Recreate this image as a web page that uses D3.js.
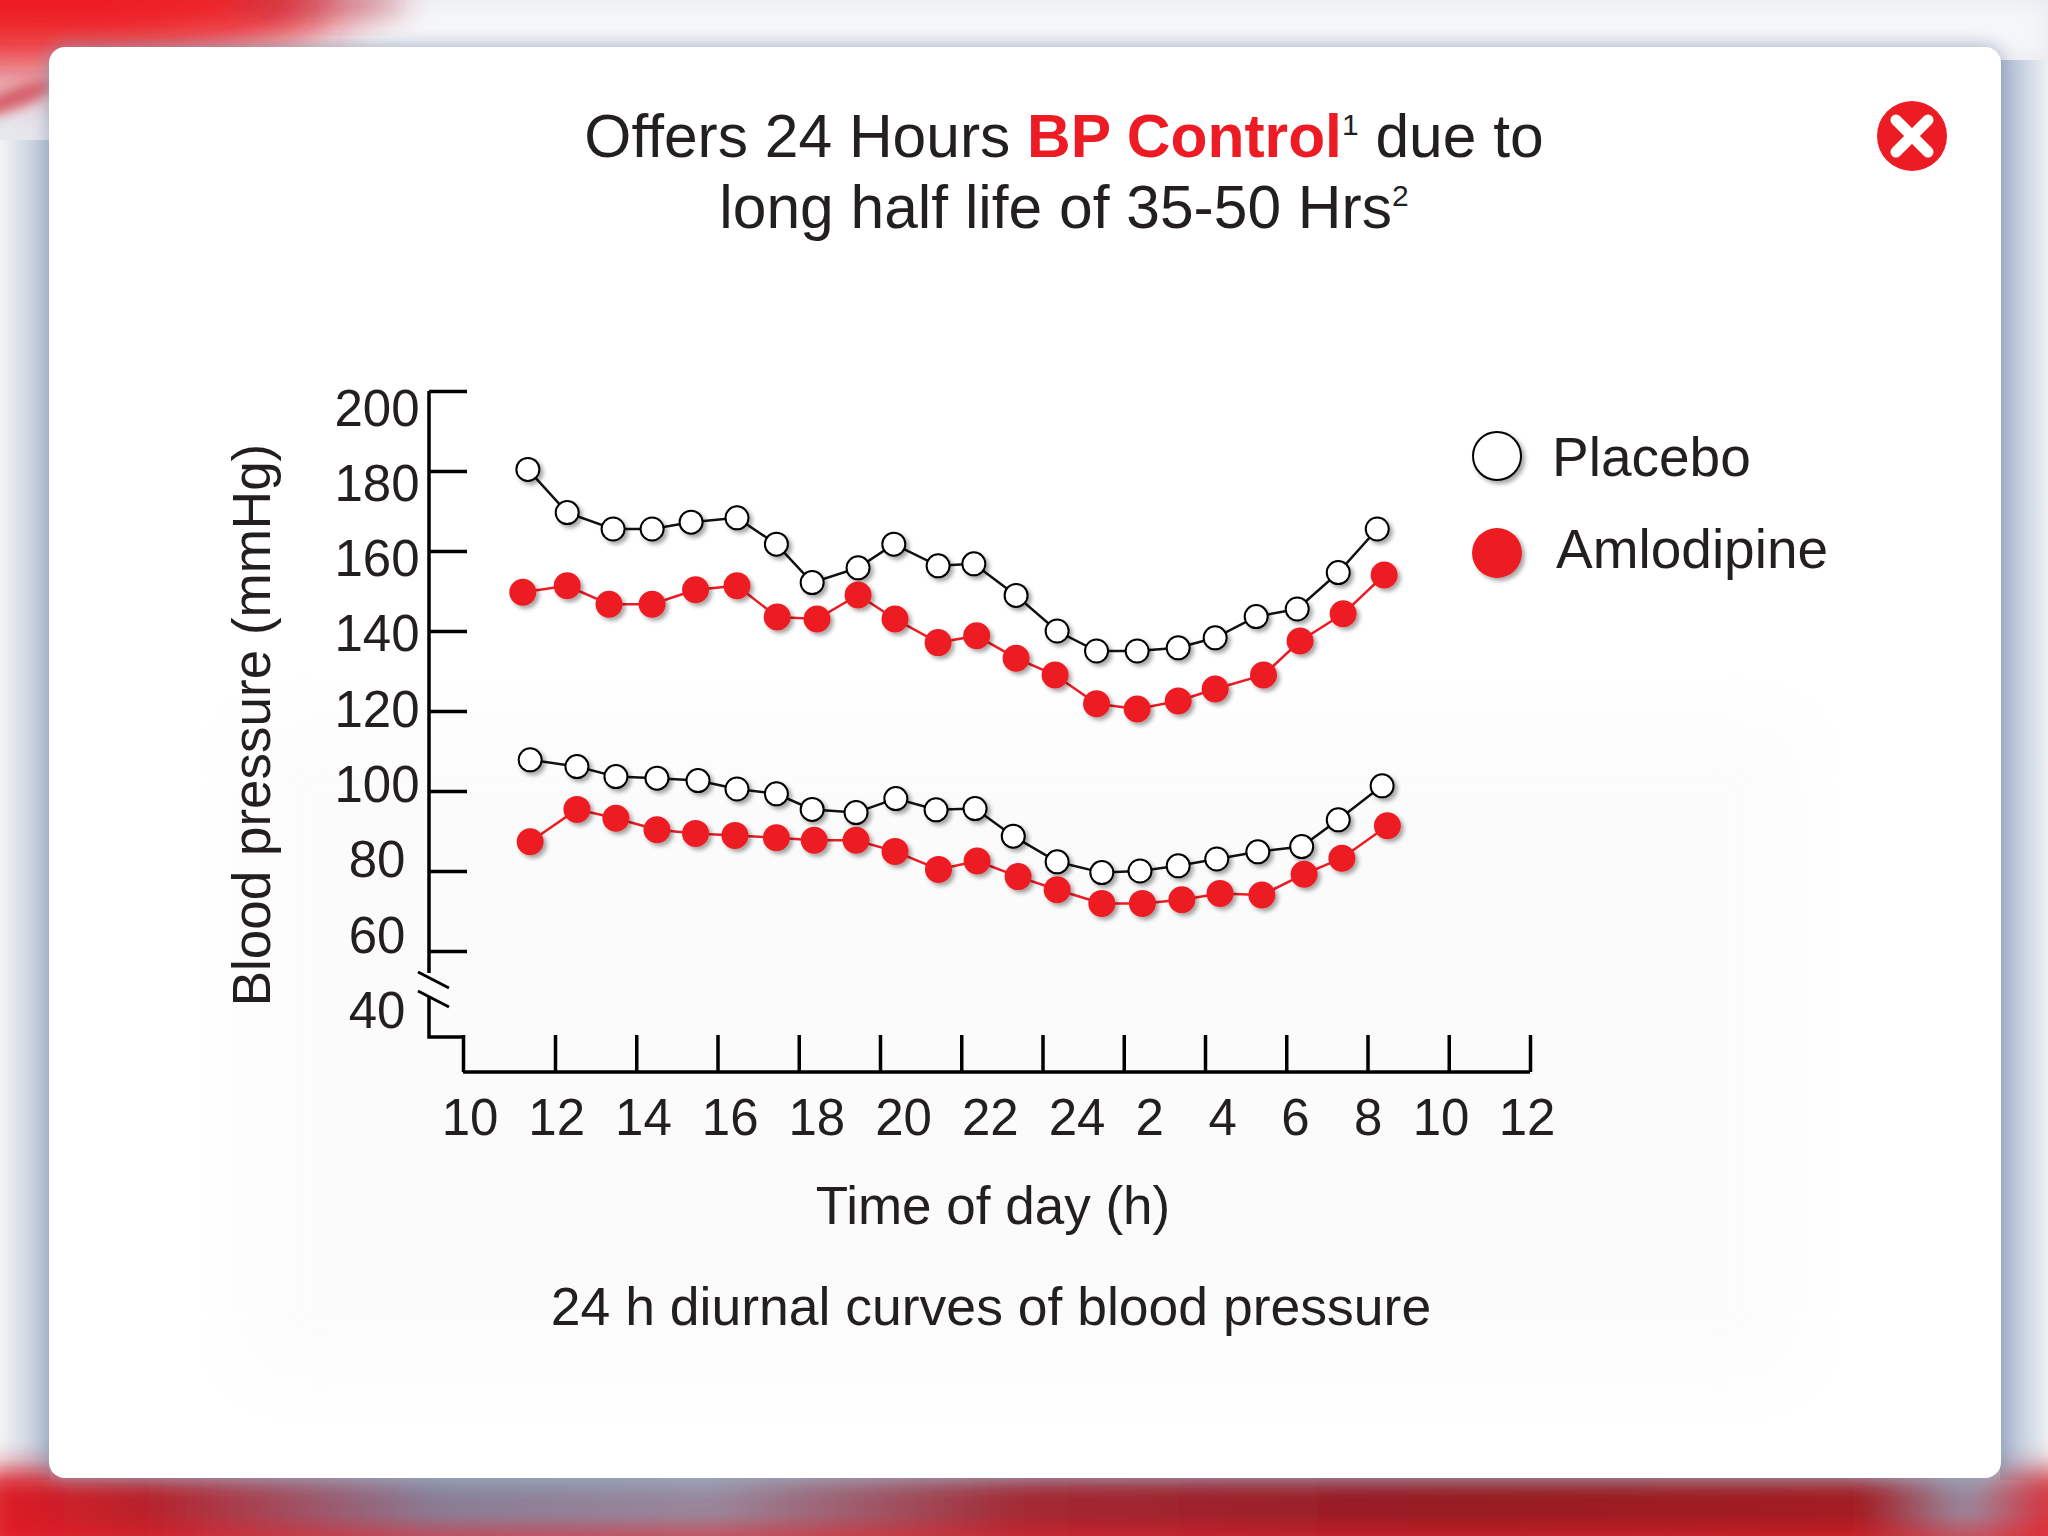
<!DOCTYPE html>
<html><head><meta charset="utf-8">
<script src="https://cdn.jsdelivr.net/npm/d3@7"></script>
<style>html,body{margin:0;padding:0;background:#e6e9ee;overflow:hidden}svg{display:block}</style>
</head><body><svg id="c" width="2048" height="1536"></svg>
<script>
// ---------------- DATA ----------------
const xTickHours  = [10,12,14,16,18,20,22,24,26,28,30,32,34,36];
const xTickLabels = ["10","12","14","16","18","20","22","24","2","4","6","8","10","12"];
const yTickValues = [60,80,100,120,140,160,180,200];
const yTickLabels = [40,60,80,100,120,140,160,180,200];

const placeboSysHours = [11.41,12.30,13.43,14.39,15.35,16.48,17.45,18.33,19.46,20.34,21.43,22.31,23.35,24.36,25.33,26.33,27.34,28.25,29.26,30.27,31.28,32.24];
const placeboSys      = [180.4,169.6,165.5,165.5,167.2,168.3,161.7,152.1,155.8,161.7,156.3,156.8,148.9,140.0,135.0,135.0,135.8,138.3,143.6,145.5,154.6,165.5];
const amloSysHours    = [11.30,12.30,13.33,14.39,15.46,16.48,17.47,18.45,19.46,20.37,21.43,22.38,23.35,24.31,25.33,26.33,27.34,28.25,29.44,30.34,31.40,32.41];
const amloSys         = [149.7,151.3,146.7,146.7,150.3,151.3,143.5,143.0,149.0,143.0,137.1,138.8,133.2,129.0,121.8,120.5,122.5,125.5,129.0,137.5,144.3,154.0];
const placeboDiaHours = [11.46,12.54,13.50,14.51,15.52,16.48,17.45,18.33,19.41,20.39,21.38,22.34,23.28,24.36,25.46,26.40,27.34,28.29,29.30,30.38,31.28,32.36];
const placeboDia      = [107.8,106.1,103.6,103.2,102.6,100.5,99.3,95.4,94.6,98.1,95.3,95.6,88.7,82.3,79.6,80.0,81.3,83.0,84.8,86.1,92.8,101.3];
const amloDiaHours    = [11.46,12.54,13.50,14.51,15.46,16.43,17.45,18.38,19.41,20.37,21.44,22.39,23.40,24.36,25.46,26.46,27.43,28.37,29.40,30.44,31.37,32.49];
const amloDia         = [87.3,95.4,93.2,90.3,89.4,88.9,88.3,87.7,87.7,84.9,80.4,82.5,78.6,75.3,71.9,71.9,72.8,74.4,74.0,79.2,83.2,91.3];

const seriesNames = ["Placebo","Amlodipine"];
const titleLine1 = ["Offers 24 Hours ","BP Control","1"," due to"];
const titleLine2 = ["long half life of 35-50 Hrs","2"];
const xTitle = "Time of day (h)";
const yTitle = "Blood pressure (mmHg)";
const caption = "24 h diurnal curves of blood pressure";

// ---------------- STYLE ----------------
const RED = "#ed1c24", INK = "#231f20";
const FONT = "'Liberation Sans', Arial, Helvetica, sans-serif";

const svg = d3.select("#c");
const defs = svg.append("defs");

function blur(id, sd){ defs.append("filter").attr("id",id).attr("x","-50%").attr("y","-50%").attr("width","200%").attr("height","200%")
  .append("feGaussianBlur").attr("stdDeviation",sd); }
blur("b30",30); blur("b14",14); blur("b6",6);
const ds = defs.append("filter").attr("id","dot").attr("x","-50%").attr("y","-50%").attr("width","200%").attr("height","200%");
ds.append("feDropShadow").attr("dx",3).attr("dy",3).attr("stdDeviation",2).attr("flood-color","#000").attr("flood-opacity",0.35);
const cs = defs.append("filter").attr("id","card").attr("x","-10%").attr("y","-10%").attr("width","120%").attr("height","120%");
cs.append("feDropShadow").attr("dx",0).attr("dy",0).attr("stdDeviation",10).attr("flood-color","#8797b3").attr("flood-opacity",0.8);

function lin(id, stops, x2, y2){
  const g = defs.append("linearGradient").attr("id",id).attr("x1",0).attr("y1",0).attr("x2",x2).attr("y2",y2);
  stops.forEach(s=>g.append("stop").attr("offset",s[0]).attr("stop-color",s[1]).attr("stop-opacity",s[2]===undefined?1:s[2]));
}
lin("leftG",[[0,"#f3f4f7"],[1,"#b5c2d5"]],1,0);
lin("rightG",[[0,"#a9b8ce"],[1,"#eef1f5"]],1,0);
lin("botH",[[0,"#e11d26"],[0.08,"#b0222c"],[0.22,"#7d8aa5"],[0.35,"#8f95ab"],[0.5,"#9a2a35"],[0.7,"#8c1b23"],[0.9,"#9a1a22"],[0.95,"#8d9ab0"],[1,"#e31b23"]],1,0);
lin("botV",[[0,RED,0],[0.5,RED,0.15],[1,"#e41f26",0.95]],0,1);

// ---------------- BACKGROUND ----------------
svg.append("rect").attr("width",2048).attr("height",1536).attr("fill","#e6e9ef");
svg.append("rect").attr("x",0).attr("y",0).attr("width",2048).attr("height",60).attr("fill","#f6f7f9").attr("filter","url(#b14)");
svg.append("ellipse").attr("cx",40).attr("cy",0).attr("rx",300).attr("ry",70).attr("fill",RED).attr("filter","url(#b30)");
svg.append("ellipse").attr("cx",320).attr("cy",4).attr("rx",90).attr("ry",16).attr("fill","#b4283a").attr("opacity",0.5).attr("filter","url(#b14)");
svg.append("ellipse").attr("cx",10).attr("cy",100).attr("rx",50).attr("ry",10).attr("transform","rotate(-20 10 100)").attr("fill","#d0303c").attr("opacity",0.7).attr("filter","url(#b6)");
svg.append("rect").attr("x",0).attr("y",140).attr("width",50).attr("height",1340).attr("fill","url(#leftG)");
svg.append("rect").attr("x",2000).attr("y",60).attr("width",48).attr("height",1420).attr("fill","url(#rightG)");
svg.append("rect").attr("x",-20).attr("y",1470).attr("width",2090).attr("height",90).attr("fill","url(#botH)").attr("filter","url(#b14)");
svg.append("rect").attr("x",-20).attr("y",1470).attr("width",2090).attr("height",90).attr("fill","url(#botV)");

// ---------------- CARD ----------------
svg.append("rect").attr("x",49).attr("y",47).attr("width",1952).attr("height",1431).attr("rx",16)
  .attr("fill","#ffffff").attr("filter","url(#card)");
svg.append("rect").attr("x",240).attr("y",720).attr("width",1560).attr("height",660).attr("rx",30)
  .attr("fill","#f4f4f4").attr("opacity",0.3).attr("filter","url(#b30)");

// close button
const cb = svg.append("g").attr("transform","translate(1912,136)");
cb.append("circle").attr("r",35).attr("fill",RED);
cb.append("path").attr("d","M-16,-16L16,16M16,-16L-16,16").attr("stroke","#fff").attr("stroke-width",11).attr("stroke-linecap","round");

// ---------------- TITLE ----------------
const t1 = svg.append("text").attr("x",1064).attr("y",157).attr("text-anchor","middle")
  .attr("font-family",FONT).attr("font-size",60.5).attr("fill",INK);
t1.append("tspan").text(titleLine1[0]);
t1.append("tspan").attr("fill",RED).attr("font-weight","bold").text(titleLine1[1]);
t1.append("tspan").attr("font-size",30).attr("dy",-22).text(titleLine1[2]);
t1.append("tspan").attr("dy",22).text(titleLine1[3]);
const t2 = svg.append("text").attr("x",1064).attr("y",228).attr("text-anchor","middle")
  .attr("font-family",FONT).attr("font-size",60.5).attr("fill",INK);
t2.append("tspan").text(titleLine2[0]);
t2.append("tspan").attr("font-size",30).attr("dy",-22).text(titleLine2[1]);

// ---------------- SCALES ----------------
const x = d3.scaleLinear().domain([10,12,36]).range([463,555,1530]);
const xLab = d3.scaleLinear().domain([10,24,34,36]).range([470,1077,1441,1527]);
const y = d3.scaleLinear().domain([40,60,200]).range([994,951,391]);
const yLab = d3.scaleLinear().domain([40,200]).range([1028,425.5]);
const axX = 429, baseY = 1072, stepY = 1037;

const g = svg.append("g");

// y axis (broken)
g.append("path").attr("fill","none").attr("stroke","#000").attr("stroke-width",3.5)
  .attr("d",`M${axX},${y(200)}V${y(60)+22}M${axX},${y(60)+46}V${stepY}H${x(10)}`);
g.append("path").attr("fill","none").attr("stroke","#000").attr("stroke-width",3)
  .attr("d",`M${axX-11},${y(60)+21}l31,16M${axX-11},${y(60)+40}l31,16`);
g.append("g").attr("transform",`translate(${axX},0)`)
  .call(d3.axisRight(y).tickValues(yTickValues).tickSize(38).tickFormat(""))
  .call(s=>{s.select(".domain").remove(); s.selectAll("line").attr("stroke","#000").attr("stroke-width",3.5);});
g.append("g").selectAll("text").data(yTickLabels).join("text")
  .attr("x",axX-52).attr("y",d=>yLab(d)).attr("text-anchor","middle")
  .attr("font-family",FONT).attr("font-size",51).attr("fill",INK).text(d=>d);

// x axis
g.append("g").attr("transform",`translate(0,${baseY})`)
  .call(d3.axisTop(x).tickValues(xTickHours).tickSize(37).tickFormat(""))
  .call(s=>{s.select(".domain").attr("d",`M${x(10)},0H${x(36)}`).attr("stroke","#000").attr("stroke-width",3.5);
            s.selectAll("line").attr("stroke","#000").attr("stroke-width",3.5);});
g.append("g").selectAll("text").data(xTickHours).join("text")
  .attr("x",d=>xLab(d)).attr("y",1135).attr("text-anchor","middle")
  .attr("font-family",FONT).attr("font-size",51).attr("fill",INK).text((d,i)=>xTickLabels[i]);

// axis titles
svg.append("text").attr("x",993).attr("y",1224).attr("text-anchor","middle")
  .attr("font-family",FONT).attr("font-size",53).attr("fill",INK).text(xTitle);
svg.append("text").attr("transform","translate(270,725) rotate(-90)").attr("text-anchor","middle")
  .attr("font-family",FONT).attr("font-size",53).attr("fill",INK).text(yTitle);
svg.append("text").attr("x",991).attr("y",1325).attr("text-anchor","middle")
  .attr("font-family",FONT).attr("font-size",53.5).attr("fill",INK).text(caption);

// ---------------- SERIES ----------------
const line = d3.line().x(d=>x(d[0])).y(d=>y(d[1]));
const series = [
  {name:seriesNames[0], pts:d3.zip(placeboSysHours,placeboSys), fill:"#fff", stroke:"#000", line:"#111", r:11.5},
  {name:seriesNames[0], pts:d3.zip(placeboDiaHours,placeboDia), fill:"#fff", stroke:"#000", line:"#111", r:11.5},
  {name:seriesNames[1], pts:d3.zip(amloSysHours,amloSys), fill:RED, stroke:"none", line:RED, r:13.5},
  {name:seriesNames[1], pts:d3.zip(amloDiaHours,amloDia), fill:RED, stroke:"none", line:RED, r:13.5}
];
series.forEach(s=>{
  const sg = g.append("g");
  sg.append("path").datum(s.pts).attr("fill","none").attr("stroke",s.line).attr("stroke-width",2.5).attr("d",line);
  sg.selectAll("circle").data(s.pts).join("circle")
    .attr("cx",d=>x(d[0])).attr("cy",d=>y(d[1])).attr("r",s.r)
    .attr("fill",s.fill).attr("stroke",s.stroke).attr("stroke-width",2).attr("filter","url(#dot)");
});

// ---------------- LEGEND ----------------
const leg = svg.append("g").attr("transform","translate(1497,456)");
seriesNames.forEach((n,i)=>{
  const lg = leg.append("g").attr("transform",`translate(0,${i*97})`);
  lg.append("circle").attr("r",i?25:24).attr("fill",i?RED:"#fff").attr("stroke",i?"none":"#000").attr("stroke-width",2).attr("filter","url(#dot)");
  lg.append("text").attr("x",i?59:55).attr("y",i?15:20).attr("font-family",FONT).attr("font-size",55).attr("fill",INK).text(n);
});
</script></body></html>
